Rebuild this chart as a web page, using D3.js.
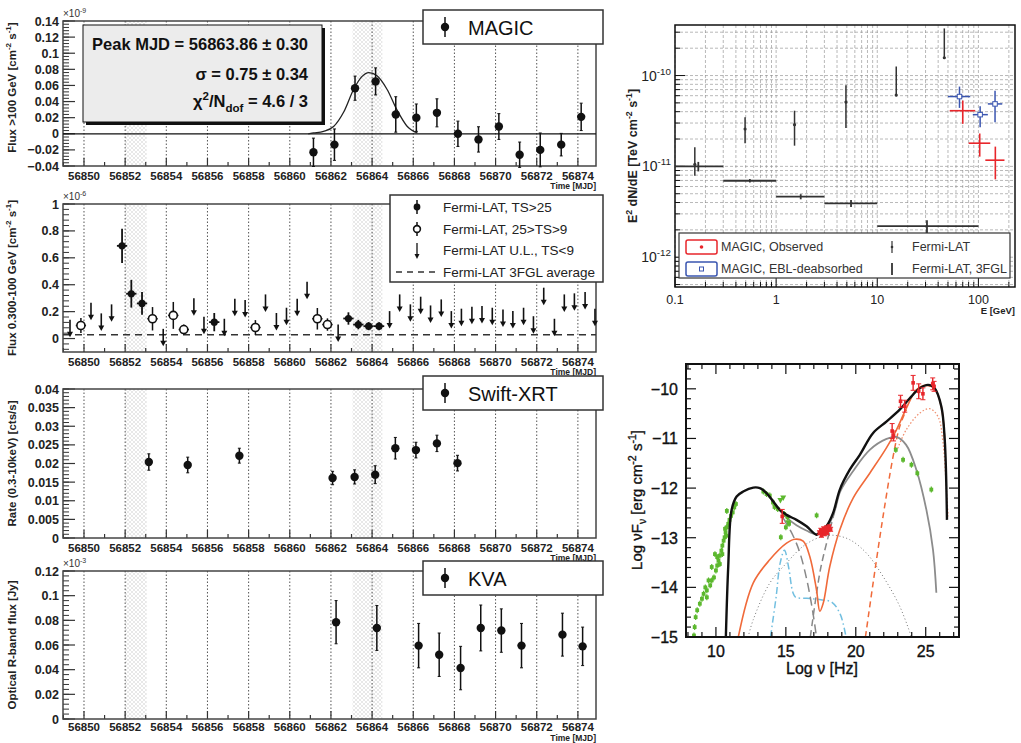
<!DOCTYPE html>
<html lang="en">
<head>
  <meta charset="UTF-8">
  <title>Light curves and SED</title>
  <style>
    html, body { margin: 0; padding: 0; background: #fff; }
    svg { display: block; font-family: "Liberation Sans", Arial, Helvetica, sans-serif; }
  </style>
</head>
<body>
  <script src="https://cdn.jsdelivr.net/npm/d3@7"></script>
  <script>
    const width = 1021, height = 743
    const X0 = 63, X1 = 596

    // ---------- light curve data ----------
    const mjdTicks = [56850, 56852, 56854, 56856, 56858, 56860, 56862, 56864, 56866, 56868, 56870, 56872, 56874]
    const hatchBands = [[56852, 56853.05], [56863.05, 56864.5]]

    // MAGIC >100 GeV, units of 1e-9 cm^-2 s^-1
    const magicT = [56861.15, 56862.17, 56863.17, 56864.17, 56865.15, 56866.15, 56867.15, 56868.17, 56869.17, 56870.16, 56871.17, 56872.17, 56873.19, 56874.16]
    const magicFlux = [-0.023, -0.0135, 0.0566, 0.065, 0.024, 0.020, 0.026, 0.0, -0.007, 0.009, -0.026, -0.020, -0.0135, 0.021]
    const magicErr = [0.0176, 0.0195, 0.015, 0.0168, 0.022, 0.017, 0.0174, 0.0157, 0.0157, 0.016, 0.0157, 0.021, 0.014, 0.017]
    const gaussT = [56860.9, 56861.15, 56861.64, 56862.13, 56862.62, 56863.1, 56863.5, 56863.84, 56864.24, 56864.73, 56865.22, 56865.71, 56866.2]
    const gaussFlux = [0.0, 0.001, 0.003, 0.009, 0.027, 0.055, 0.071, 0.076, 0.072, 0.055, 0.029, 0.009, 0.001]
    const magicYTicks = [-0.04, -0.02, 0, 0.02, 0.04, 0.06, 0.08, 0.1, 0.12, 0.14]

    // Fermi-LAT 0.3-100 GeV, units of 1e-6 cm^-2 s^-1
    const lat25T = [56851.85, 56852.30, 56852.82, 56856.33, 56862.85, 56863.33, 56863.83, 56864.34]
    const lat25Flux = [0.689, 0.333, 0.261, 0.122, 0.149, 0.104, 0.092, 0.092]
    const lat25Err = [0.127, 0.103, 0.085, 0.068, 0.046, 0.035, 0.030, 0.030]
    const lat9T = [56849.85, 56853.33, 56854.34, 56854.85, 56858.33, 56861.34, 56861.83]
    const lat9Flux = [0.097, 0.147, 0.172, 0.067, 0.082, 0.147, 0.104]
    const lat9Err = [0.056, 0.087, 0.100, 0.037, 0.055, 0.080, 0.046]
    const latUlT = [56849.32, 56850.34, 56850.84, 56851.34, 56853.85, 56855.34, 56855.83, 56856.82, 56857.33, 56857.83,
                    56858.82, 56859.35, 56859.84, 56860.36, 56860.84, 56862.35, 56864.85, 56865.34, 56865.86, 56866.36,
                    56866.84, 56867.36, 56867.85, 56868.34, 56868.85, 56869.34, 56869.84, 56870.36, 56870.84, 56871.36,
                    56871.84, 56872.34, 56872.86, 56873.34, 56873.83, 56874.35, 56874.83]
    const latUl = [0.14, 0.266, 0.187, 0.254, 0.072, 0.30, 0.162, 0.147, 0.296, 0.286,
                   0.328, 0.19, 0.229, 0.296, 0.423, 0.104, 0.204, 0.328, 0.254, 0.311,
                   0.246, 0.291, 0.204, 0.222, 0.236, 0.241, 0.229, 0.216, 0.204, 0.229,
                   0.166, 0.378, 0.147, 0.328, 0.336, 0.346, 0.222]
    const fglAverage = 0.028
    const latYTicks = [0, 0.2, 0.4, 0.6, 0.8, 1]

    // Swift-XRT rate (cts/s)
    const xrtT = [56853.15, 56855.04, 56857.55, 56862.08, 56863.15, 56864.15, 56865.13, 56866.13, 56867.15, 56868.15]
    const xrtRate = [0.0204, 0.0196, 0.0221, 0.0161, 0.0164, 0.0170, 0.0241, 0.0236, 0.0254, 0.0201]
    const xrtErr = [0.0022, 0.0021, 0.0020, 0.0018, 0.0019, 0.0024, 0.0029, 0.0021, 0.0022, 0.0021]
    const xrtYTicks = [0, 0.005, 0.01, 0.015, 0.02, 0.025, 0.03, 0.035, 0.04]

    // KVA R-band, units of 1e-3 Jy
    const kvaT = [56862.25, 56864.23, 56866.26, 56867.26, 56868.3, 56869.28, 56870.28, 56871.26, 56873.25, 56874.23]
    const kvaFlux = [0.0785, 0.0738, 0.0595, 0.0521, 0.0413, 0.0738, 0.0717, 0.0595, 0.0684, 0.0589]
    const kvaErr = [0.0175, 0.0182, 0.018, 0.0176, 0.0176, 0.0186, 0.0176, 0.018, 0.0174, 0.0156]
    const kvaYTicks = [0, 0.02, 0.04, 0.06, 0.08, 0.1, 0.12]

    // ---------- gamma-ray spectrum (E in GeV, E^2 dN/dE in TeV cm^-2 s^-1) ----------
    const lcE = [0.157, 0.493, 1.52, 4.9, 15.4, 46]
    const lcLo = [7.9e-12, 1.8e-11, 1.69e-11, 2.65e-11, 5.9e-11, 1.52e-10]
    const lcMid = [1.05e-11, 2.58e-11, 2.88e-11, 5.1e-11, 6.1e-11, 1.57e-10]
    const lcHi = [1.62e-11, 3.47e-11, 4.1e-11, 7.8e-11, 1.26e-10, 3.3e-10]
    const fglEmin = [0.1, 0.3, 1, 3, 10]
    const fglEmax = [0.3, 1, 3, 10, 100]
    const fglE = [0.17, 0.55, 1.75, 5.5, 31]
    const fglFlux = [1.0e-11, 6.95e-12, 4.64e-12, 3.91e-12, 2.2e-12]
    const fglErr = [1.2e-12, 3e-13, 3e-13, 3.5e-13, 3.5e-13]
    const obsE = [70, 103, 147], obsEmin = [52, 80, 117], obsEmax = [93, 131, 181]
    const obsFlux = [4.1e-11, 1.8e-11, 1.17e-11]
    const obsLo = [2.94e-11, 1.28e-11, 7.2e-12], obsHi = [5.3e-11, 2.3e-11, 1.65e-11]
    const deaE = [65, 104, 146], deaEmin = [50, 88, 124], deaEmax = [83, 124, 172]
    const deaFlux = [5.87e-11, 3.71e-11, 4.87e-11]
    const deaLo = [4.4e-11, 2.7e-11, 3.06e-11], deaHi = [7.56e-11, 4.6e-11, 6.8e-11]

    // ---------- broadband SED (log nu [Hz], log nuFnu [erg cm^-2 s^-1]) ----------
    const totalModel = [[10.71, -15.0], [10.88, -13.58], [11.12, -12.44], [11.48, -12.17], [11.95, -12.07], [12.67, -11.99],
      [13.14, -12.0], [13.62, -12.1], [14.1, -12.27], [14.57, -12.44], [15.05, -12.54], [15.76, -12.64], [16.48, -12.77],
      [17.19, -12.94], [17.43, -12.89], [17.9, -12.77], [18.38, -12.5], [18.86, -12.03], [19.57, -11.63], [20.29, -11.33],
      [21.24, -10.89], [22.19, -10.66], [23.14, -10.42], [23.86, -10.19], [24.57, -9.99], [25.17, -9.92], [25.64, -9.99],
      [26.12, -10.36], [26.36, -11.03], [26.52, -12.64]]
    const zone1Total = [[14.0, -12.27], [15.0, -12.58], [15.76, -12.75], [16.5, -12.86], [17.2, -12.93], [17.6, -12.9],
      [18.0, -12.78], [18.5, -12.45], [18.9, -12.06], [19.8, -11.66], [21.0, -11.23], [22.2, -11.01], [22.9, -10.97],
      [23.6, -11.13], [24.33, -11.63], [25.05, -12.44], [25.52, -13.24], [25.76, -14.11]]
    const zone1Sync = [[14.8, -12.6], [15.5, -12.95], [16.0, -13.3], [16.5, -13.85], [16.9, -14.45], [17.19, -15.0]]
    const zone1Ssc = [[16.75, -15.0], [17.1, -14.3], [17.5, -13.6], [18.1, -12.9], [18.6, -12.35]]
    const seedDotted = [[12.3, -15.0], [12.67, -14.65], [13.86, -13.91], [15.05, -13.51], [16.24, -13.17], [17.43, -12.99],
      [18.38, -12.95], [19.57, -13.04], [20.76, -13.31], [21.95, -13.78], [23.14, -14.38], [23.98, -15.0]]
    const zone2Total = [[11.6, -15.0], [12.67, -13.91], [13.86, -13.44], [15.05, -13.11], [15.64, -13.03], [16.24, -13.07],
      [16.71, -13.38], [17.19, -14.05], [17.43, -14.48], [17.67, -14.32], [18.14, -13.58], [18.86, -12.84], [19.81, -12.2],
      [21.0, -11.7], [22.19, -11.19], [22.9, -10.83], [23.62, -10.39], [24.33, -10.02], [25.05, -9.93], [25.64, -9.99],
      [26.12, -10.37], [26.36, -11.05]]
    const zone2Ext = [[20.69, -15.0], [21.24, -13.91], [21.95, -12.57], [22.67, -11.36], [23.14, -10.76], [23.62, -10.42]]
    const zone2Dotted = [[23.0, -11.2], [23.6, -10.83], [24.57, -10.49], [25.29, -10.4], [25.88, -10.56], [26.24, -11.09],
      [26.48, -12.03], [26.6, -12.57]]
    const diskDashDot = [[13.9, -15.0], [14.3, -14.2], [14.6, -13.5], [14.9, -13.25], [15.2, -13.6], [15.5, -14.1],
      [15.7, -14.2], [16.5, -14.22], [17.5, -14.25], [18.3, -14.3], [18.9, -14.55], [19.3, -15.0]]

    const archival = [[8.43, -14.97], [8.48, -14.8], [8.55, -14.6], [8.66, -14.46], [8.85, -14.33], [9.0, -14.23],
      [9.12, -14.13], [9.24, -14.0], [9.35, -14.06], [9.35, -14.2], [9.47, -13.86], [9.59, -13.96], [9.7, -13.86],
      [9.7, -13.59], [9.86, -13.8], [9.93, -13.33], [10.0, -13.66], [10.09, -13.56], [10.09, -13.39], [10.18, -13.46],
      [10.28, -13.36], [10.28, -13.53], [10.39, -13.26], [10.46, -13.16], [10.46, -13.33], [10.55, -13.06], [10.62, -12.99],
      [10.65, -12.82], [10.69, -12.89], [10.74, -12.96], [10.78, -12.79], [10.78, -12.46], [10.88, -12.72], [10.97, -12.64],
      [11.08, -12.56], [11.2, -12.49], [11.31, -12.39], [11.43, -12.32],
      [13.39, -12.07], [13.62, -12.12], [13.85, -12.15], [14.08, -12.29], [14.19, -12.38], [14.42, -12.42], [14.64, -12.99],
      [14.88, -12.52], [15.0, -12.79], [15.12, -12.59], [15.23, -12.72], [17.2, -12.55],
      [22.86, -11.23], [23.38, -11.43], [23.98, -11.53], [24.4, -11.7], [25.4, -12.03]]
    const archivalUl = [[14.61, -12.25], [14.81, -12.2], [15.17, -12.7]]
    const campaign = [[14.74, -12.57], [17.4, -12.9], [17.5, -12.85], [17.55, -12.95], [17.6, -12.88], [17.7, -12.82],
      [17.75, -12.92], [17.8, -12.86], [17.9, -12.8], [17.95, -12.9], [18.0, -12.84], [18.1, -12.78], [18.2, -12.83],
      [22.6, -10.85], [22.7, -10.95], [23.2, -10.25], [23.5, -10.35], [24.1, -9.88], [24.5, -10.05], [24.8, -10.1],
      [25.5, -9.9], [25.6, -9.95]]
    const campaignErr = [0.14, 0.04, 0.04, 0.04, 0.04, 0.04, 0.04, 0.04, 0.04, 0.04, 0.04, 0.04, 0.04,
      0.15, 0.1, 0.12, 0.12, 0.15, 0.15, 0.12, 0.12, 0.1]

    // ---------- helpers ----------
    const svg = d3.select('body').append('svg').attr('width', width).attr('height', height)
    const defs = svg.append('defs')
    const hatch = defs.append('pattern').attr('id', 'hatch').attr('patternUnits', 'userSpaceOnUse')
      .attr('width', 4).attr('height', 4)
    hatch.append('path').attr('d', 'M0,0L4,4M4,0L0,4').attr('stroke', '#dedede').attr('stroke-width', 0.7)

    // text with ^{sup} and _{sub} parts
    const rich = (sel, str, fs) => {
      let cur = 0
      str.split(/(\^\{[^}]*\}|_\{[^}]*\})/).filter(s => s).forEach(p => {
        let off = 0, txt = p, small = false
        if (p.startsWith('^{')) { off = -0.42 * fs; txt = p.slice(2, -1); small = true }
        else if (p.startsWith('_{')) { off = 0.28 * fs; txt = p.slice(2, -1); small = true }
        sel.append('tspan').attr('dy', off - cur).attr('font-size', small ? fs * 0.7 : fs).text(txt)
        cur = off
      })
      return sel
    }

    const drawPoints = (g, pts, o) => {
      const c = o.color || '#111', sw = o.sw || 1.5
      g.selectAll(null).data(pts).join('line')
        .attr('x1', d => d.x).attr('x2', d => d.x).attr('y1', d => d.y1).attr('y2', d => d.y2)
        .attr('stroke', c).attr('stroke-width', sw)
      if (o.xerr) {
        g.selectAll(null).data(pts).join('line')
          .attr('x1', d => d.x1).attr('x2', d => d.x2).attr('y1', d => d.y).attr('y2', d => d.y)
          .attr('stroke', c).attr('stroke-width', sw)
      }
      if (o.cap) {
        ['y1', 'y2'].forEach(k => g.selectAll(null).data(pts).join('line')
          .attr('x1', d => d.x - o.cap).attr('x2', d => d.x + o.cap).attr('y1', d => d[k]).attr('y2', d => d[k])
          .attr('stroke', c).attr('stroke-width', 1))
      }
      if (o.r) {
        g.selectAll(null).data(pts).join('circle')
          .attr('cx', d => d.x).attr('cy', d => d.y).attr('r', o.r)
          .attr('fill', o.open ? '#fff' : c).attr('stroke', c).attr('stroke-width', o.open ? 1.6 : 0)
      }
      if (o.sq) {
        g.selectAll(null).data(pts).join('rect')
          .attr('x', d => d.x - o.sq / 2).attr('y', d => d.y - o.sq / 2).attr('width', o.sq).attr('height', o.sq)
          .attr('fill', o.open ? '#fff' : c).attr('stroke', c).attr('stroke-width', o.open ? 1 : 0)
      }
    }

    const timeX = d3.scaleLinear().domain([56848.98, 56874.88]).range([X0, X1])
    const fmt = d3.format('~g')

    const timePanel = p => {
      const g = svg.append('g')
      const y = d3.scaleLinear().domain(p.yDomain).range([p.bottom, p.top])
      hatchBands.forEach(([a, b]) => g.append('rect')
        .attr('x', timeX(a)).attr('y', p.top).attr('width', timeX(b) - timeX(a)).attr('height', p.bottom - p.top)
        .attr('fill', 'url(#hatch)'))
      g.selectAll(null).data(mjdTicks).join('line')
        .attr('x1', d => timeX(d)).attr('x2', d => timeX(d)).attr('y1', p.top).attr('y2', p.bottom)
        .attr('stroke', '#555').attr('stroke-width', 1).attr('stroke-dasharray', '1.5,2')

      // y axis ticks (ROOT style, inside)
      const [lo, hi] = p.yDomain
      const minors = d3.range(Math.ceil(lo / p.minor - 1e-6), Math.floor(hi / p.minor + 1e-6) + 1).map(i => i * p.minor)
      g.selectAll(null).data(minors).join('line')
        .attr('x1', X0).attr('x2', X0 + 6).attr('y1', d => y(d)).attr('y2', d => y(d))
        .attr('stroke', '#333').attr('stroke-width', 1)
      g.selectAll(null).data(p.ticks).join('line')
        .attr('x1', X0).attr('x2', X0 + 12).attr('y1', d => y(d)).attr('y2', d => y(d))
        .attr('stroke', '#333').attr('stroke-width', 1.2)
      g.selectAll(null).data(p.ticks).join('text')
        .attr('x', X0 - 4).attr('y', d => y(d) + 4.5).attr('text-anchor', 'end')
        .attr('font-size', 12.5).attr('font-weight', 'bold').attr('fill', '#222').text(d => fmt(d))

      // x axis ticks
      g.selectAll(null).data(d3.range(56849, 56875)).join('line')
        .attr('x1', d => timeX(d)).attr('x2', d => timeX(d)).attr('y1', p.bottom).attr('y2', d => p.bottom - (d % 2 === 0 ? 8 : 4))
        .attr('stroke', '#333').attr('stroke-width', 1.2)
      g.selectAll(null).data(mjdTicks).join('text')
        .attr('x', d => timeX(d)).attr('y', p.bottom + (p.labelDy || 14)).attr('text-anchor', 'middle')
        .attr('font-size', 11.5).attr('font-weight', 'bold').attr('fill', '#222').text(d => d)
      g.append('text').attr('x', X1).attr('y', p.bottom + (p.timeDy || 23)).attr('text-anchor', 'end')
        .attr('font-size', 8.5).attr('font-weight', 'bold').attr('fill', '#222').text('Time [MJD]')

      g.append('rect').attr('x', X0).attr('y', p.top).attr('width', X1 - X0).attr('height', p.bottom - p.top)
        .attr('fill', 'none').attr('stroke', '#444').attr('stroke-width', 1.5)

      rich(g.append('text').attr('transform', `translate(16,${(p.top + p.bottom) / 2 + (p.titleShift || 0)}) rotate(-90)`)
        .attr('text-anchor', 'middle').attr('font-weight', 'bold').attr('fill', '#222'), p.title, 11.5)
      if (p.exp) {
        rich(g.append('text').attr('x', X0).attr('y', p.top - 4).attr('fill', '#333'), p.exp, 10)
      }
      return { g, y }
    }

    const legendBox = (g, x, y, w, h) => g.append('rect').attr('x', x).attr('y', y).attr('width', w).attr('height', h)
      .attr('fill', '#fff').attr('stroke', '#333').attr('stroke-width', 1.5)

    const bigLegend = (g, top, label) => {
      legendBox(g, 423, top, 180, 34)
      drawPoints(g, [{ x: 445, y: top + 17, y1: top + 7, y2: top + 27 }], { r: 4.2 })
      g.append('text').attr('x', 468).attr('y', top + 24.5).attr('font-size', 20).attr('fill', '#111').text(label)
    }

    const timePoints = (y, ts, vs, es) => ts.map((t, i) => ({ x: timeX(t), y: y(vs[i]), y1: y(vs[i] + es[i]), y2: y(vs[i] - es[i]) }))

    // ---------- MAGIC panel ----------
    {
      const { g, y } = timePanel({ top: 21, bottom: 166, yDomain: [-0.04, 0.14], ticks: magicYTicks, minor: 0.004,
        title: 'Flux  >100 GeV [cm^{-2} s^{-1}]', exp: '×10^{-9}', titleShift: -6 })
      g.append('line').attr('x1', X0).attr('x2', X1).attr('y1', y(0)).attr('y2', y(0)).attr('stroke', '#111').attr('stroke-width', 1.2)
      g.append('path').datum(gaussT.map((t, i) => [timeX(t), y(gaussFlux[i])]))
        .attr('d', d3.line().curve(d3.curveMonotoneX)).attr('fill', 'none').attr('stroke', '#222').attr('stroke-width', 1.3)
      drawPoints(g, timePoints(y, magicT, magicFlux, magicErr), { r: 4.2, cap: 1.5 })

      // fit result box with shadow
      g.append('rect').attr('x', 86).attr('y', 28).attr('width', 239).attr('height', 97).attr('fill', '#111')
      g.append('rect').attr('x', 83).attr('y', 25).attr('width', 239).attr('height', 97)
        .attr('fill', '#ececec').attr('stroke', '#111').attr('stroke-width', 1)
      const st = g.append('g').attr('font-weight', 'bold').attr('fill', '#111').attr('text-anchor', 'end')
      st.append('text').attr('x', 308).attr('y', 50).attr('font-size', 16.5).text('Peak MJD = 56863.86 ± 0.30')
      st.append('text').attr('x', 308).attr('y', 80).attr('font-size', 16.5).text('σ = 0.75 ± 0.34')
      rich(st.append('text').attr('x', 308).attr('y', 107), 'χ^{2}/N_{dof} = 4.6 / 3', 16.5)
      bigLegend(g, 10, 'MAGIC')
    }

    // ---------- Fermi-LAT panel ----------
    {
      const { g, y } = timePanel({ top: 204, bottom: 352, yDomain: [-0.1, 1.0], ticks: latYTicks, minor: 0.04,
        title: 'Flux  0.300-100 GeV [cm^{-2} s^{-1}]', exp: '×10^{-6}' })
      g.append('line').attr('x1', X0).attr('x2', X1).attr('y1', y(fglAverage)).attr('y2', y(fglAverage))
        .attr('stroke', '#333').attr('stroke-width', 1.6).attr('stroke-dasharray', '7,5')
      const halfBin = 0.25
      const withX = (ts, vs, es) => ts.map((t, i) => ({ x: timeX(t), x1: timeX(t - halfBin), x2: timeX(t + halfBin),
        y: y(vs[i]), y1: y(vs[i] + es[i]), y2: y(vs[i] - es[i]) }))
      // upper limits
      const ul = latUlT.map((t, i) => ({ x: timeX(t), y: y(latUl[i]) }))
      g.selectAll(null).data(ul).join('line')
        .attr('x1', d => d.x).attr('x2', d => d.x).attr('y1', d => d.y).attr('y2', d => d.y + 13)
        .attr('stroke', '#111').attr('stroke-width', 1.6)
      g.selectAll(null).data(ul).join('path')
        .attr('d', d => `M${d.x - 3},${d.y + 12}L${d.x + 3},${d.y + 12}L${d.x},${d.y + 17.5}Z`).attr('fill', '#111')
      drawPoints(g, withX(lat9T, lat9Flux, lat9Err), { r: 4, open: true, xerr: true })
      drawPoints(g, withX(lat25T, lat25Flux, lat25Err), { r: 3.6, xerr: true, sw: 1.8 })

      legendBox(g, 390, 195, 213, 87)
      drawPoints(g, [{ x: 417, y: 207, y1: 200, y2: 214 }], { r: 3.4 })
      drawPoints(g, [{ x: 417, y: 229, y1: 222, y2: 236 }], { r: 3.4, open: true })
      g.append('line').attr('x1', 417).attr('x2', 417).attr('y1', 243).attr('y2', 255).attr('stroke', '#111').attr('stroke-width', 1.3)
      g.append('path').attr('d', 'M414.5,254L419.5,254L417,259Z').attr('fill', '#111')
      g.append('line').attr('x1', 396).attr('x2', 437).attr('y1', 272).attr('y2', 272)
        .attr('stroke', '#333').attr('stroke-width', 1.5).attr('stroke-dasharray', '6,5')
      const lt = g.append('g').attr('font-size', 13.5).attr('fill', '#222')
      ;['Fermi-LAT, TS>25', 'Fermi-LAT, 25>TS>9', 'Fermi-LAT U.L., TS<9', 'Fermi-LAT 3FGL average']
        .forEach((s, i) => lt.append('text').attr('x', 443).attr('y', 212 + i * 21.7).text(s))
    }

    // ---------- Swift-XRT panel ----------
    {
      const { g, y } = timePanel({ top: 389, bottom: 538, yDomain: [0, 0.04], ticks: xrtYTicks, minor: 0.001,
        title: 'Rate (0.3-10keV) [cts/s]' })
      drawPoints(g, timePoints(y, xrtT, xrtRate, xrtErr), { r: 4.2, cap: 1.5 })
      bigLegend(g, 376, 'Swift-XRT')
    }

    // ---------- KVA panel ----------
    {
      const { g, y } = timePanel({ top: 571, bottom: 719, yDomain: [0, 0.12], ticks: kvaYTicks, minor: 0.004,
        title: 'Optical R-band flux [Jy]', exp: '×10^{-3}', labelDy: 12, timeDy: 21.5 })
      drawPoints(g, timePoints(y, kvaT, kvaFlux, kvaErr), { r: 4.2, cap: 1.5 })
      bigLegend(g, 561, 'KVA')
    }

    // ---------- gamma-ray SED panel ----------
    {
      const g = svg.append('g')
      const L = 675, R = 1015, T = 25, B = 287
      const x = d3.scaleLog().domain([0.1, 230]).range([L, R])
      const y = d3.scaleLog().domain([4.7e-13, 3.6e-10]).range([B, T])
      const xs = [], ys = []
      ;[0.1, 1, 10, 100].forEach(dec => d3.range(1, 10).forEach(m => { const v = dec * m; if (v <= 230) xs.push(v) }))
      ;[1e-13, 1e-12, 1e-11, 1e-10].forEach(dec => d3.range(1, 10).forEach(m => { const v = dec * m; if (v >= 4.7e-13 && v <= 3.6e-10) ys.push(v) }))
      g.selectAll(null).data(xs).join('line').attr('x1', d => x(d)).attr('x2', d => x(d)).attr('y1', T).attr('y2', B)
        .attr('stroke', '#8a8a8a').attr('stroke-width', 0.6).attr('stroke-dasharray', '3,2')
      g.selectAll(null).data(ys).join('line').attr('x1', L).attr('x2', R).attr('y1', d => y(d)).attr('y2', d => y(d))
        .attr('stroke', '#8a8a8a').attr('stroke-width', 0.6).attr('stroke-dasharray', '3,2')
      const isMajor = v => Math.abs(Math.log10(v) - Math.round(Math.log10(v))) < 1e-6
      g.selectAll(null).data(xs).join('line').attr('x1', d => x(d)).attr('x2', d => x(d)).attr('y1', B)
        .attr('y2', d => B - (isMajor(d) ? 10 : 5)).attr('stroke', '#111').attr('stroke-width', 1)
      g.selectAll(null).data(ys).join('line').attr('x1', L).attr('x2', d => L + (isMajor(d) ? 10 : 5))
        .attr('y1', d => y(d)).attr('y2', d => y(d)).attr('stroke', '#111').attr('stroke-width', 1)
      g.append('rect').attr('x', L).attr('y', T).attr('width', R - L).attr('height', B - T)
        .attr('fill', 'none').attr('stroke', '#111').attr('stroke-width', 1.5)
      ;[['0.1', 0.1], ['1', 1], ['10', 10], ['100', 100]].forEach(([s, v]) => g.append('text').attr('x', x(v)).attr('y', B + 17)
        .attr('text-anchor', 'middle').attr('font-size', 12.5).attr('fill', '#222').text(s))
      ;[[-12, 1e-12], [-11, 1e-11], [-10, 1e-10]].forEach(([e, v]) => rich(g.append('text').attr('x', L - 4).attr('y', y(v) + 5)
        .attr('text-anchor', 'end').attr('fill', '#222'), `10^{${e}}`, 14))
      g.append('text').attr('x', R).attr('y', B + 27).attr('text-anchor', 'end').attr('font-size', 9.5)
        .attr('font-weight', 'bold').attr('fill', '#222').text('E [GeV]')
      rich(g.append('text').attr('transform', `translate(637,${(T + B) / 2}) rotate(-90)`).attr('text-anchor', 'middle')
        .attr('font-weight', 'bold').attr('fill', '#222'), 'E^{2} dN/dE [TeV cm^{-2} s^{-1}]', 12.5)

      // 3FGL bins
      drawPoints(g, fglE.map((e, i) => ({ x: x(e), x1: x(fglEmin[i]), x2: x(fglEmax[i]), y: y(fglFlux[i]),
        y1: y(fglFlux[i] + fglErr[i]), y2: y(fglFlux[i] - fglErr[i]) })), { xerr: true, color: '#333', sw: 1.8 })
      // LAT light-curve-period spectrum
      drawPoints(g, lcE.map((e, i) => ({ x: x(e), y: y(lcMid[i]), y1: y(lcHi[i]), y2: y(lcLo[i]) })), { color: '#333', sw: 1.5, r: 1.6 })
      // MAGIC
      drawPoints(g, deaE.map((e, i) => ({ x: x(e), x1: x(deaEmin[i]), x2: x(deaEmax[i]), y: y(deaFlux[i]),
        y1: y(deaHi[i]), y2: y(deaLo[i]) })), { xerr: true, color: '#3a55b0', sw: 1.5, sq: 4.5, open: true })
      drawPoints(g, obsE.map((e, i) => ({ x: x(e), x1: x(obsEmin[i]), x2: x(obsEmax[i]), y: y(obsFlux[i]),
        y1: y(obsHi[i]), y2: y(obsLo[i]) })), { xerr: true, color: '#e8262b', sw: 1.6 })

      // legend
      g.append('rect').attr('x', 679).attr('y', 233).attr('width', 331).attr('height', 45)
        .attr('fill', '#fff').attr('stroke', '#333').attr('stroke-width', 1.2)
      g.append('rect').attr('x', 686).attr('y', 240).attr('width', 31).attr('height', 14).attr('rx', 2)
        .attr('fill', 'none').attr('stroke', '#e8262b').attr('stroke-width', 1.5)
      g.append('circle').attr('cx', 701.5).attr('cy', 247).attr('r', 1.8).attr('fill', '#e8262b')
      g.append('rect').attr('x', 686).attr('y', 262).attr('width', 31).attr('height', 14).attr('rx', 2)
        .attr('fill', 'none').attr('stroke', '#3a55b0').attr('stroke-width', 1.5)
      g.append('rect').attr('x', 699.5).attr('y', 267).attr('width', 4).attr('height', 4).attr('fill', 'none')
        .attr('stroke', '#3a55b0').attr('stroke-width', 1)
      drawPoints(g, [{ x: 892, y: 247, y1: 241, y2: 253 }], { color: '#333', sw: 1.2, r: 1.3 })
      g.append('line').attr('x1', 892).attr('x2', 892).attr('y1', 263).attr('y2', 275).attr('stroke', '#333').attr('stroke-width', 1.8)
      const lt = g.append('g').attr('font-size', 12.5).attr('fill', '#333')
      lt.append('text').attr('x', 721).attr('y', 251).text('MAGIC, Observed')
      lt.append('text').attr('x', 721).attr('y', 273).text('MAGIC, EBL-deabsorbed')
      lt.append('text').attr('x', 912).attr('y', 251).text('Fermi-LAT')
      lt.append('text').attr('x', 912).attr('y', 273).text('Fermi-LAT, 3FGL')
    }

    // ---------- broadband SED panel ----------
    {
      const g = svg.append('g')
      const L = 686, R = 959, T = 364, B = 637
      const x = d3.scaleLinear().domain([7.86, 27.38]).range([L, R])
      const y = d3.scaleLinear().domain([-15, -9.5]).range([B, T])
      defs.append('clipPath').attr('id', 'sedclip').append('rect').attr('x', L).attr('y', T).attr('width', R - L).attr('height', B - T)
      const plot = g.append('g').attr('clip-path', 'url(#sedclip)')
      const line = d3.line().x(d => x(d[0])).y(d => y(d[1])).curve(d3.curveCatmullRom)
      const curve = (data, stroke, sw, dash) => plot.append('path').datum(data).attr('d', line)
        .attr('fill', 'none').attr('stroke', stroke).attr('stroke-width', sw).attr('stroke-dasharray', dash || null)

      curve(seedDotted, '#777', 1, '1,2.5')
      curve(diskDashDot, '#72bfe0', 1.5, '7,3,1.5,3')
      curve(zone1Sync, '#888', 1.5, '9,5')
      curve(zone1Ssc, '#888', 1.5, '7,4')
      curve(zone2Dotted, '#f09070', 1.3, '1.5,2')
      curve(zone2Ext, '#f06a3a', 1.5, '6,4')
      curve(zone2Total, '#f06a3a', 1.6)
      curve(zone1Total, '#8c8c8c', 1.8)

      // data
      const green = '#5cb82e', red = '#e8262b'
      drawPoints(plot, archival.map(d => ({ x: x(d[0]), y: y(d[1]), y1: y(d[1] + 0.06), y2: y(d[1] - 0.06) })),
        { color: green, sw: 1.2, sq: 3.8 })
      plot.selectAll(null).data(archivalUl).join('path')
        .attr('d', d => `M${x(d[0]) - 3},${y(d[1]) - 2.5}L${x(d[0]) + 3},${y(d[1]) - 2.5}L${x(d[0])},${y(d[1]) + 3}Z`)
        .attr('fill', green)
      curve(totalModel, '#111', 2.4)
      drawPoints(plot, campaign.map((d, i) => ({ x: x(d[0]), y: y(d[1]), y1: y(d[1] + campaignErr[i]), y2: y(d[1] - campaignErr[i]) })),
        { color: red, sw: 1.4, sq: 3.6, cap: 2.5 })

      // axes: ticks inside on all four sides
      const xMin = d3.range(8, 28), yMin = d3.range(-75, -47).map(i => i / 5)
      const tickLine = (x1, y1, x2, y2) => g.append('line').attr('x1', x1).attr('y1', y1).attr('x2', x2).attr('y2', y2)
        .attr('stroke', '#111').attr('stroke-width', 1.2)
      xMin.forEach(v => {
        const len = v % 5 === 0 ? 10 : 5
        tickLine(x(v), B, x(v), B - len); tickLine(x(v), T, x(v), T + len)
      })
      yMin.forEach(v => {
        const len = Math.abs(v - Math.round(v)) < 1e-6 ? 10 : 5
        tickLine(L, y(v), L + len, y(v)); tickLine(R, y(v), R - len, y(v))
      })
      g.append('rect').attr('x', L).attr('y', T).attr('width', R - L).attr('height', B - T)
        .attr('fill', 'none').attr('stroke', '#111').attr('stroke-width', 2)
      const ax = g.append('g').attr('fill', '#111').attr('stroke', '#111').attr('stroke-width', 0.35)
      ;[10, 15, 20, 25].forEach(v => ax.append('text').attr('x', x(v)).attr('y', B + 20).attr('text-anchor', 'middle')
        .attr('font-size', 16).text(v))
      ;[-10, -11, -12, -13, -14, -15].forEach(v => ax.append('text').attr('x', L - 8).attr('y', y(v) + 6)
        .attr('text-anchor', 'end').attr('font-size', 16).text(fmt(v)))
      rich(ax.append('text').attr('x', 822).attr('y', 674).attr('text-anchor', 'middle'), 'Log ν  [Hz]', 16)
      rich(ax.append('text').attr('transform', `translate(642,500) rotate(-90)`).attr('text-anchor', 'middle'),
        'Log νF_{ν}  [erg cm^{-2} s^{-1}]', 15)
    }
  </script>
</body>
</html>
